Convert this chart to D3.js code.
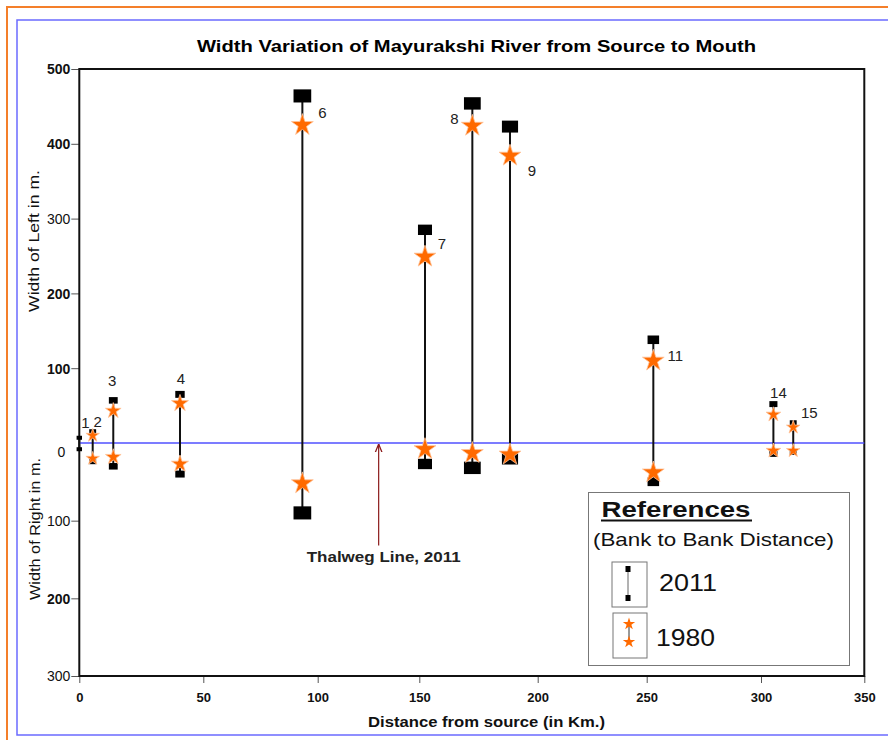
<!DOCTYPE html>
<html lang="en">
<head>
    <meta charset="UTF-8">
    <title>Width Variation of Mayurakshi River</title>
    <script src="https://cdn.jsdelivr.net/npm/d3@7/dist/d3.min.js"></script>
    <style>
        body { margin: 0; background: #fff; }
        text { font-family: "Liberation Sans", Arial, sans-serif; }
    </style>
</head>
<body>

<script>

    // sites (cross sections) along the river
    const sites = [1, 2, 3, 4, 6, 7, 8, 9, 11, 14, 15];
    const distanceKm = [0, 5.4, 13.7, 40.6, 93.3, 152.4, 172.4, 188.3, 252.9, 306, 315.6];
    // bank width from thalweg, in m.
    const left2011 = [7, 15, 57, 65, 464, 285, 454, 423, 138, 52, 27];
    const right2011 = [8, 24, 30, 40, 90, 27, 32, 20, 50, 14, 12];
    const left1980 = [null, 10, 43, 53, 425, 249, 424, 384, 110, 38, 21];
    const right1980 = [null, 20, 18, 27, 52, 8, 13, 15, 38, 10, 10];

    const xTicks = [0, 50, 100, 150, 200, 250, 300, 350];
    const yTicks = [500, 400, 300, 200, 100, 0, -100, -200, -300];

    const thalwegKm = 130;
    const thalwegLabel = "Thalweg Line, 2011";

    // label placement next to each site (dx, dy from top 2011 mark)
    const labelOffsets = [[6, -15], [5, -10], [-1, -20], [1, -16], [20, 17], [17, 14],
        [-18, 15], [22, 44], [22, 16], [5, -11], [16, -10]];

    const width = 888;
    const height = 740;

    // the printed axes are slightly uneven, so the scales follow the drawn ticks
    const x = d3.scaleLinear()
        .domain(xTicks)
        .range([79.3, 203.3, 317.7, 419.3, 537.7, 646.7, 761, 864.3]);
    const y = d3.scaleLinear()
        .domain([500, 0, -300])
        .range([69, 443, 676]);

    const data = sites.map((s, i) => ({
        site: s,
        km: distanceKm[i],
        l11: left2011[i], r11: right2011[i],
        l80: left1980[i], r80: right1980[i],
        off: labelOffsets[i]
    }));

    const squareW = d3.scaleSqrt().domain([0, 554]).range([3, 17.7]);
    const starD = d3.scaleLinear().domain([0, 150]).range([12, 23]).clamp(true);
    const star = dia => d3.symbol(d3.symbolStar, (dia / 2) ** 2 / 0.8908130915292852)();

    const svg = d3.select("body").append("svg")
        .attr("width", width).attr("height", height);

    svg.append("rect").attr("width", width).attr("height", height).attr("fill", "#fff");

    // page frames
    svg.append("path").attr("d", "M888,7H7V740").attr("fill", "none")
        .attr("stroke", "#f47f2a").attr("stroke-width", 2);
    svg.append("path").attr("d", "M888,20H17V735H888").attr("fill", "none")
        .attr("stroke", "#6b6bff").attr("stroke-width", 1.5);

    svg.append("text")
        .attr("x", 476.5).attr("y", 52)
        .attr("text-anchor", "middle")
        .attr("font-size", 17).attr("font-weight", "bold")
        .attr("textLength", 559).attr("lengthAdjust", "spacingAndGlyphs")
        .text("Width Variation of Mayurakshi River from Source to Mouth");

    // axes
    const gx = svg.append("g")
        .attr("transform", `translate(0,${y(-300)})`)
        .call(d3.axisBottom(x).tickValues(xTicks).tickSize(7).tickPadding(10));
    gx.select(".domain").remove();
    gx.selectAll("line").attr("stroke", "#555");
    gx.selectAll("text").attr("font-size", 13).attr("font-weight", "bold")
        .attr("font-family", "Liberation Sans, Arial, sans-serif").attr("fill", "#111");

    const gy = svg.append("g")
        .attr("transform", `translate(${x(0)},0)`)
        .call(d3.axisLeft(y).tickValues(yTicks).tickSize(8).tickPadding(1)
            .tickFormat(d => Math.abs(d)));
    gy.select(".domain").remove();
    gy.selectAll("line").attr("stroke", "#555");
    gy.selectAll(".tick").filter(d => d === 0).select("line").remove();
    gy.selectAll("text").attr("font-size", 14)
        .attr("font-family", "Liberation Sans, Arial, sans-serif").attr("fill", "#111")
        .attr("font-weight", d => [300, 0, -100, -300].includes(d) ? "normal" : "bold")
        .attr("dy", d => d === 0 ? "0.95em" : "0.35em")
        .attr("x", d => d === 0 ? -14 : -9);

    svg.append("rect")
        .attr("x", x(0)).attr("y", y(500))
        .attr("width", x(350) - x(0)).attr("height", y(-300) - y(500))
        .attr("fill", "none").attr("stroke", "#111").attr("stroke-width", 2);

    svg.append("text")
        .attr("transform", `translate(34,241) rotate(-90)`)
        .attr("text-anchor", "middle").attr("dy", "0.35em")
        .attr("font-size", 15).attr("fill", "#111")
        .attr("textLength", 142).attr("lengthAdjust", "spacingAndGlyphs")
        .text("Width of Left in m.");
    svg.append("text")
        .attr("transform", `translate(35,529) rotate(-90)`)
        .attr("text-anchor", "middle").attr("dy", "0.35em")
        .attr("font-size", 15).attr("fill", "#111")
        .attr("textLength", 142).attr("lengthAdjust", "spacingAndGlyphs")
        .text("Width of Right in m.");
    svg.append("text")
        .attr("x", 486.5).attr("y", 727)
        .attr("text-anchor", "middle")
        .attr("font-size", 15).attr("font-weight", "bold").attr("fill", "#111")
        .attr("textLength", 237).attr("lengthAdjust", "spacingAndGlyphs")
        .text("Distance from source (in Km.)");

    // thalweg
    svg.append("line")
        .attr("x1", x(0)).attr("x2", x(350))
        .attr("y1", y(0)).attr("y2", y(0))
        .attr("stroke", "#5050ff").attr("stroke-width", 1.5);

    svg.append("defs").append("marker")
        .attr("id", "arrow").attr("viewBox", "0 0 10 10")
        .attr("refX", 10).attr("refY", 5)
        .attr("markerWidth", 7).attr("markerHeight", 7)
        .attr("orient", "auto")
        .append("path").attr("d", "M0,1L10,5L0,9").attr("fill", "none")
        .attr("stroke", "#8b1a1a").attr("stroke-width", 1.5);

    svg.append("line")
        .attr("x1", x(thalwegKm)).attr("x2", x(thalwegKm))
        .attr("y1", y(-132)).attr("y2", y(0) + 1)
        .attr("stroke", "#8b1a1a").attr("stroke-width", 1.2)
        .attr("marker-end", "url(#arrow)");
    svg.append("text")
        .attr("x", x(thalwegKm) + 5).attr("y", y(-132) + 16)
        .attr("text-anchor", "middle")
        .attr("font-size", 14).attr("font-weight", "bold").attr("fill", "#222")
        .attr("textLength", 154).attr("lengthAdjust", "spacingAndGlyphs")
        .text(thalwegLabel);

    // sites
    const site = svg.append("g").selectAll("g")
        .data(data)
        .join("g");

    site.append("line")
        .attr("x1", d => x(d.km)).attr("x2", d => x(d.km))
        .attr("y1", d => y(d.l11)).attr("y2", d => y(-d.r11))
        .attr("stroke", "#111").attr("stroke-width", 2);

    site.selectAll("rect.sq")
        .data(d => [d.l11, -d.r11].map(v => ({v, d})))
        .join("rect")
        .attr("class", "sq")
        .attr("x", e => x(e.d.km) - squareW(e.d.l11 + e.d.r11) / 2)
        .attr("y", e => y(e.v) - squareW(e.d.l11 + e.d.r11) * 0.37)
        .attr("width", e => squareW(e.d.l11 + e.d.r11))
        .attr("height", e => squareW(e.d.l11 + e.d.r11) * 0.74)
        .attr("fill", "#000");

    site.filter(d => d.l80 != null).selectAll("path.st")
        .data(d => [d.l80, -d.r80].map(v => ({v, d})))
        .join("path")
        .attr("class", "st")
        .attr("transform", e => `translate(${x(e.d.km)},${y(e.v)})`)
        .attr("d", e => star(starD(e.d.l80 + e.d.r80)))
        .attr("fill", "#ff6a00")
        .attr("stroke", "#ffc49a").attr("stroke-width", 0.8);

    site.append("text")
        .attr("x", d => x(d.km) + d.off[0])
        .attr("y", d => y(d.l11) + d.off[1])
        .attr("dy", "0.35em")
        .attr("text-anchor", "middle")
        .attr("font-size", 15).attr("fill", "#222")
        .text(d => d.site);

    // legend
    const lg = svg.append("g");
    lg.append("rect").attr("x", 588.5).attr("y", 492.5).attr("width", 261).attr("height", 173)
        .attr("fill", "#fff").attr("stroke", "#777");
    lg.append("text").attr("x", 676).attr("y", 517)
        .attr("text-anchor", "middle").attr("font-size", 22).attr("font-weight", "bold")
        .attr("fill", "#111")
        .attr("textLength", 149).attr("lengthAdjust", "spacingAndGlyphs")
        .text("References");
    lg.append("line").attr("x1", 601).attr("x2", 752).attr("y1", 520.5).attr("y2", 520.5)
        .attr("stroke", "#111").attr("stroke-width", 2);
    lg.append("text").attr("x", 713.5).attr("y", 546)
        .attr("text-anchor", "middle").attr("font-size", 19).attr("fill", "#111")
        .attr("textLength", 241).attr("lengthAdjust", "spacingAndGlyphs")
        .text("(Bank to Bank Distance)");

    lg.append("rect").attr("x", 612).attr("y", 562).attr("width", 35).attr("height", 45)
        .attr("fill", "none").attr("stroke", "#777");
    lg.append("line").attr("x1", 628).attr("x2", 628).attr("y1", 569).attr("y2", 598)
        .attr("stroke", "#666");
    lg.selectAll("rect.lsq").data([569, 598]).join("rect").attr("class", "lsq")
        .attr("x", 625.5).attr("y", d => d - 3).attr("width", 5).attr("height", 6).attr("fill", "#000");
    lg.append("text").attr("x", 659).attr("y", 590.5)
        .attr("font-size", 24).attr("fill", "#111")
        .attr("textLength", 58).attr("lengthAdjust", "spacingAndGlyphs")
        .text("2011");

    lg.append("rect").attr("x", 613).attr("y", 613).attr("width", 34).attr("height", 45)
        .attr("fill", "none").attr("stroke", "#777");
    lg.append("line").attr("x1", 629).attr("x2", 629).attr("y1", 624).attr("y2", 643)
        .attr("stroke", "#333");
    lg.selectAll("path.lst").data([624, 642]).join("path").attr("class", "lst")
        .attr("transform", d => `translate(629,${d})`)
        .attr("d", star(13)).attr("fill", "#ff6a00");
    lg.append("text").attr("x", 656).attr("y", 645.5)
        .attr("font-size", 24).attr("fill", "#111")
        .attr("textLength", 59).attr("lengthAdjust", "spacingAndGlyphs")
        .text("1980");

</script>

</body>
</html>
